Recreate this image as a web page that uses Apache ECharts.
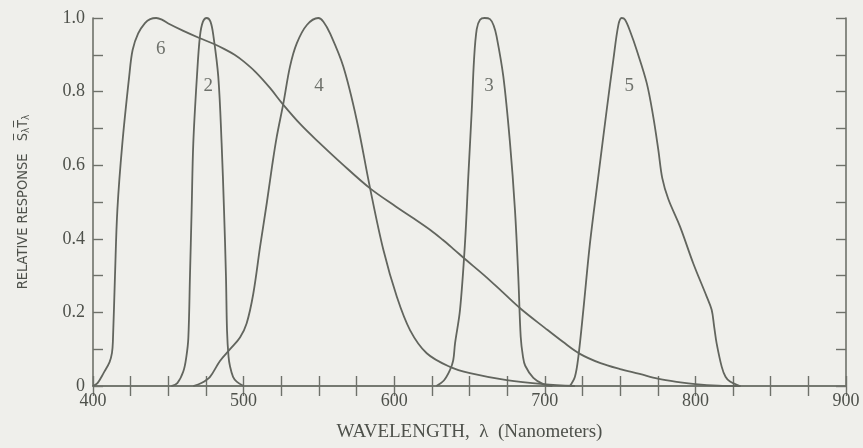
<!DOCTYPE html>
<html>
<head>
<meta charset="utf-8">
<script src="https://cdn.jsdelivr.net/npm/echarts@6/dist/echarts.min.js"></script>
<style>
html,body{margin:0;padding:0;background:#efefeb;}
#chart{width:863px;height:448px;}
</style>
</head>
<body>
<div id="chart"></div>
<script>
// Wavelength (nm) / relative response pairs
const curve6 = [[400,0],[403,0.008],[407,0.035],[411,0.065],[412.6,0.09],[413.2,0.12],[414.6,0.3],[416.2,0.48],[419.5,0.66],[424,0.84],[426.3,0.913],[430,0.958],[434.5,0.986],[438,0.997],[442,1.0],[446,0.995],[450,0.985],[460,0.965],[471,0.945],[480,0.93],[487,0.916],[494,0.9],[500,0.882],[508,0.853],[517.5,0.81],[526,0.766],[538,0.71],[550,0.662],[565,0.605],[584,0.537],[601,0.488],[612,0.458],[624,0.424],[632,0.398],[640,0.37],[647,0.345],[660,0.3],[672,0.255],[684,0.21],[700,0.158],[712,0.12],[723,0.088],[737,0.062],[750,0.046],[763,0.033],[775,0.02],[790,0.01],[800,0.005],[815,0.001],[830,0]];
const curve2 = [[452,0],[456,0.008],[460,0.04],[462,0.08],[463.3,0.13],[464.4,0.3],[465.5,0.478],[466.6,0.66],[469,0.84],[471,0.95],[473,0.99],[475.5,1.0],[478,0.99],[480,0.95],[483.2,0.84],[485.4,0.66],[487,0.478],[488.3,0.297],[489,0.15],[490,0.08],[491,0.053],[493,0.025],[495.4,0.012],[500,0]];
const curve4 = [[466.6,0],[472,0.008],[477.7,0.025],[484.3,0.068],[491,0.1],[497.6,0.132],[502,0.17],[506.4,0.25],[511,0.38],[515.5,0.5],[519,0.6],[522,0.677],[526.4,0.768],[530.8,0.868],[535.3,0.931],[542,0.981],[549.6,1.0],[553,0.99],[557.4,0.958],[566.2,0.868],[575.1,0.723],[584,0.537],[592.8,0.37],[601.7,0.243],[610.5,0.152],[621.6,0.089],[637,0.052],[650.3,0.035],[674.7,0.016],[699,0.005],[720,0]];
const curve3 = [[628,0],[633,0.015],[637,0.043],[639.2,0.07],[640.4,0.116],[643.7,0.207],[647,0.388],[649.2,0.569],[651.5,0.75],[653,0.886],[654.8,0.97],[657,0.995],[660,1.0],[663.6,0.997],[666,0.98],[668,0.95],[672.5,0.84],[676.9,0.66],[680.2,0.478],[682.4,0.297],[684,0.134],[685.5,0.08],[687,0.055],[692.4,0.022],[699,0.005],[705,0]];
const curve5 = [[716.7,0],[720,0.025],[722.3,0.08],[725.6,0.207],[730,0.388],[735.5,0.569],[741.1,0.75],[745.5,0.886],[748.8,0.98],[751,1.0],[753.3,0.995],[757,0.96],[761,0.913],[767.7,0.823],[772,0.732],[775.4,0.641],[778,0.565],[782,0.508],[789.8,0.433],[798.6,0.333],[807.5,0.243],[810.8,0.207],[812.5,0.16],[814.1,0.116],[817.5,0.052],[820,0.025],[823,0.012],[829.6,0]];

// Curve number labels and their positions in data units
const curveNames = ['6','2','4','3','5'];
const labelWavelengths = [445, 476.5, 550, 663, 756];
const labelResponses = [0.915, 0.815, 0.815, 0.815, 0.815];

const xTicks = {min:400, max:900, step:25};
const yTicks = {min:0, max:1, step:0.1};

const INK = '#4e514b';
const LINE = '#62655e';
const serif = '"Liberation Serif", "DejaVu Serif", serif';

const chart = echarts.init(document.getElementById('chart'), null, {renderer:'canvas'});

function lineSeries(data){
  return {type:'line', data:data, showSymbol:false, smooth:0.35,
    lineStyle:{color:LINE, width:1.8}, xAxisIndex:0, yAxisIndex:0, silent:true, z:3};
}

const axisLineStyle = {show:true, lineStyle:{color:'#6e716a', width:1.6}};
const tickStyle = {show:true, inside:true, length:10, lineStyle:{color:'#6e716a', width:1.4}};

chart.setOption({
  backgroundColor:'#efefeb',
  animation:false,
  grid:{left:93, right:17, top:18, bottom:62, containLabel:false},
  xAxis:[
    {type:'value', position:'bottom', min:xTicks.min, max:xTicks.max, interval:xTicks.step,
     axisLine:axisLineStyle, axisTick:tickStyle, splitLine:{show:false},
     axisLabel:{color:INK, fontFamily:serif, fontSize:18, margin:6,
       formatter:v => (v % 100 === 0 ? String(v) : '')},
     name:'WAVELENGTH,  \u03bb  (Nanometers)', nameLocation:'middle', nameGap:37,
     nameTextStyle:{color:INK, fontFamily:serif, fontSize:19}},
    {type:'value', position:'top', min:xTicks.min, max:xTicks.max, interval:xTicks.step,
     axisLine:axisLineStyle, axisTick:tickStyle, splitLine:{show:false}, axisLabel:{show:false}}
  ],
  yAxis:[
    {type:'value', position:'left', min:yTicks.min, max:yTicks.max, interval:yTicks.step,
     axisLine:axisLineStyle, axisTick:tickStyle, splitLine:{show:false},
     axisLabel:{color:INK, fontFamily:serif, fontSize:18, margin:8,
       formatter:v => { const t = Math.round(v*10); if (t % 2) return ''; return t === 0 ? '0' : (t/10).toFixed(1); }},
     name:'{a|RELATIVE RESPONSE   }{b|S\u0305}{s|\u03bb}{b|T\u0305}{s|\u03bb}', nameLocation:'middle', nameGap:62,
     nameTextStyle:{color:INK, rich:{
       a:{fontFamily:'"Liberation Sans Narrow", "DejaVu Sans Condensed", sans-serif', fontSize:14.5, color:INK},
       b:{fontFamily:'"DejaVu Sans Condensed", sans-serif', fontSize:14, color:INK},
       s:{fontFamily:'"DejaVu Sans Condensed", sans-serif', fontSize:10, color:INK, padding:[6,0,0,0]}
     }}},
    {type:'value', position:'right', min:yTicks.min, max:yTicks.max, interval:yTicks.step,
     axisLine:axisLineStyle, axisTick:tickStyle, splitLine:{show:false}, axisLabel:{show:false}}
  ],
  series:[
    lineSeries(curve6), lineSeries(curve2), lineSeries(curve4), lineSeries(curve3), lineSeries(curve5),
    {type:'scatter', symbolSize:0, silent:true, z:4,
     data:curveNames.map((n,i)=>({value:[labelWavelengths[i], labelResponses[i]], name:n})),
     label:{show:true, position:'inside', formatter:p=>p.name, color:INK, fontFamily:serif, fontSize:19}}
  ]
});
</script>
</body>
</html>
